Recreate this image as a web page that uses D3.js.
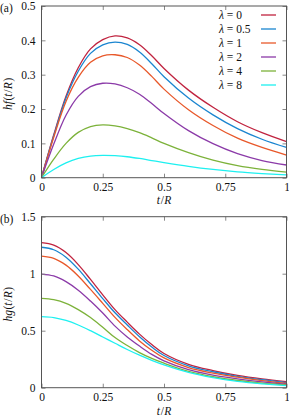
<!DOCTYPE html>
<html><head><meta charset="utf-8">
<script src="https://cdn.jsdelivr.net/npm/d3@7"></script>
<style>
html,body{margin:0;padding:0;background:#fff;}
svg{display:block;}
svg text{font-family:"Liberation Serif","DejaVu Serif","Times New Roman",serif;}
</style></head>
<body>
<svg id="c" width="289" height="418" font-family="Liberation Serif, DejaVu Serif, serif"></svg>
<script>
// ---- data ----
const lambdas = ["0", "0.5", "1", "2", "4", "8"];
const colors = ["#c0233f", "#1a85d0", "#e8582a", "#8b3aa8", "#7cb23a", "#1ef0f0"];
const tValues = [0, 0.05, 0.1, 0.15, 0.2, 0.25, 0.3, 0.35, 0.4, 0.45, 0.5, 0.6, 0.7, 0.8, 0.9, 1];
const hf_l0  = [0, 0.125, 0.237, 0.320, 0.375, 0.402, 0.413, 0.407, 0.387, 0.355, 0.318, 0.255, 0.205, 0.163, 0.131, 0.105];
const hf_l05 = [0, 0.122, 0.232, 0.310, 0.362, 0.387, 0.395, 0.388, 0.366, 0.332, 0.294, 0.232, 0.183, 0.143, 0.112, 0.088];
const hf_l1  = [0, 0.118, 0.222, 0.292, 0.336, 0.355, 0.358, 0.350, 0.328, 0.295, 0.258, 0.198, 0.152, 0.115, 0.088, 0.066];
const hf_l2  = [0, 0.098, 0.182, 0.237, 0.265, 0.275, 0.273, 0.262, 0.243, 0.216, 0.187, 0.137, 0.099, 0.070, 0.050, 0.037];
const hf_l4  = [0, 0.054, 0.100, 0.132, 0.149, 0.154, 0.151, 0.143, 0.131, 0.116, 0.100, 0.073, 0.051, 0.035, 0.024, 0.016];
const hf_l8  = [0, 0.024, 0.043, 0.056, 0.063, 0.065, 0.064, 0.061, 0.056, 0.050, 0.044, 0.033, 0.024, 0.017, 0.012, 0.008];
const hg_l0  = [1.272, 1.250, 1.185, 1.080, 0.950, 0.815, 0.685, 0.575, 0.470, 0.378, 0.300, 0.205, 0.150, 0.108, 0.077, 0.053];
const hg_l05 = [1.232, 1.210, 1.145, 1.040, 0.912, 0.782, 0.657, 0.550, 0.447, 0.357, 0.282, 0.192, 0.140, 0.100, 0.070, 0.045];
const hg_l1  = [1.155, 1.135, 1.075, 0.980, 0.862, 0.740, 0.617, 0.510, 0.410, 0.328, 0.261, 0.177, 0.128, 0.092, 0.062, 0.037];
const hg_l2  = [0.997, 0.980, 0.930, 0.855, 0.760, 0.655, 0.540, 0.445, 0.365, 0.292, 0.236, 0.158, 0.110, 0.078, 0.052, 0.030];
const hg_l4  = [0.784, 0.772, 0.740, 0.685, 0.615, 0.530, 0.440, 0.370, 0.308, 0.257, 0.215, 0.143, 0.096, 0.063, 0.040, 0.023];
const hg_l8  = [0.623, 0.615, 0.590, 0.550, 0.500, 0.445, 0.390, 0.335, 0.285, 0.240, 0.200, 0.134, 0.088, 0.055, 0.033, 0.018];
const hfSeries = [hf_l0, hf_l05, hf_l1, hf_l2, hf_l4, hf_l8];
const hgSeries = [hg_l0, hg_l05, hg_l1, hg_l2, hg_l4, hg_l8];
const xTicks = [0, 0.25, 0.5, 0.75, 1];
const xTickLabels = ["0", "0.25", "0.5", "0.75", "1"];
const yTicksA = [0, 0.1, 0.2, 0.3, 0.4, 0.5];
const yTickLabelsA = ["0", "0.1", "0.2", "0.3", "0.4", "0.5"];
const yTicksB = [0, 0.5, 1, 1.5];
const yTickLabelsB = ["0", "0.5", "1", "1.5"];

const svg = d3.select("#c");
const FONT = '"Liberation Serif", "DejaVu Serif", serif';
const frameColor = "#555";
const FS = 11.5;

function panel(opts) {
  const {top, bottom, left, right, yMax, yTicks, yLabels, series, tag, ylab, legend, xlabOff} = opts;
  const x = d3.scaleLinear().domain([0, 1]).range([left, right]);
  const y = d3.scaleLinear().domain([0, yMax]).range([bottom, top]);
  const g = svg.append("g").attr("font-family", FONT);

  const line = d3.line().x((d, i) => x(tValues[i])).y(d => y(d)).curve(d3.curveCatmullRom.alpha(0.5));
  series.forEach((s, k) => {
    g.append("path").attr("d", line(s)).attr("fill", "none")
      .attr("stroke", colors[k]).attr("stroke-width", 1.3);
  });

  const fmtX = d => xTickLabels[xTicks.indexOf(d)];
  const fmtY = d => yLabels[yTicks.indexOf(d)];
  const ax = g.append("g").attr("transform", `translate(0,${bottom})`)
    .call(d3.axisBottom(x).tickValues(xTicks).tickFormat(fmtX).tickSizeInner(-4).tickSizeOuter(0).tickPadding(5));
  const axT = g.append("g").attr("transform", `translate(0,${top})`)
    .call(d3.axisTop(x).tickValues(xTicks).tickFormat("").tickSizeInner(-4).tickSizeOuter(0));
  const ay = g.append("g").attr("transform", `translate(${left},0)`)
    .call(d3.axisLeft(y).tickValues(yTicks).tickFormat(fmtY).tickSizeInner(-4).tickSizeOuter(0).tickPadding(6));
  const ayR = g.append("g").attr("transform", `translate(${right},0)`)
    .call(d3.axisRight(y).tickValues(yTicks).tickFormat("").tickSizeInner(-4).tickSizeOuter(0));
  [ax, axT, ay, ayR].forEach(a => {
    a.attr("font-family", FONT);
    a.select(".domain").remove();
    a.selectAll("line").attr("stroke", "#888");
    a.selectAll("text").attr("font-size", FS).attr("fill", "#111").attr("font-family", FONT);
  });

  g.append("rect").attr("x", left).attr("y", top).attr("width", right - left).attr("height", bottom - top)
    .attr("fill", "none").attr("stroke", frameColor).attr("stroke-width", 1);

  const xl = g.append("text").attr("x", x(0.5)).attr("y", bottom + xlabOff).attr("text-anchor", "middle")
    .attr("font-size", FS).attr("fill", "#111").attr("font-family", FONT);
  xl.append("tspan").attr("font-style", "italic").text("t");
  xl.append("tspan").attr("dx", 0.8).text("/");
  xl.append("tspan").attr("dx", 0.3).attr("font-style", "italic").text("R");

  const yl = g.append("text").attr("transform", `translate(12,${(top + bottom) / 2 + 2}) rotate(-90)`)
    .attr("text-anchor", "middle").attr("font-size", FS).attr("fill", "#111").attr("font-family", FONT);
  yl.append("tspan").attr("font-style", "italic").text("h" + ylab);
  yl.append("tspan").attr("dx", 0.5).text("(");
  yl.append("tspan").attr("font-style", "italic").text("t");
  yl.append("tspan").attr("dx", 0.8).text("/");
  yl.append("tspan").attr("dx", 0.3).attr("font-style", "italic").text("R");
  yl.append("tspan").attr("dx", 0.5).text(")");

  g.append("text").attr("x", 0).attr("y", top + 6).attr("font-size", FS).attr("fill", "#111")
    .attr("font-family", FONT).text(tag);

  if (legend) {
    lambdas.forEach((l, k) => {
      const cy = top + 9 + k * 14;
      const t = g.append("text").attr("x", 219).attr("y", cy + 4).attr("font-size", FS).attr("fill", "#111")
        .attr("font-family", FONT);
      t.append("tspan").attr("font-style", "italic").text("λ");
      t.append("tspan").text(" = " + l);
      g.append("line").attr("x1", 261).attr("x2", 276).attr("y1", cy).attr("y2", cy)
        .attr("stroke", colors[k]).attr("stroke-width", 1.3);
    });
  }
}

panel({top: 6, bottom: 177.7, left: 41.5, right: 286.5, yMax: 0.5, yTicks: yTicksA, yLabels: yTickLabelsA,
  series: hfSeries, tag: "(a)", ylab: "f", legend: true, xlabOff: 26});
panel({top: 216.7, bottom: 387.7, left: 41.5, right: 286.5, yMax: 1.5, yTicks: yTicksB, yLabels: yTickLabelsB,
  series: hgSeries, tag: "(b)", ylab: "g", legend: false, xlabOff: 27});
</script>
</body></html>
